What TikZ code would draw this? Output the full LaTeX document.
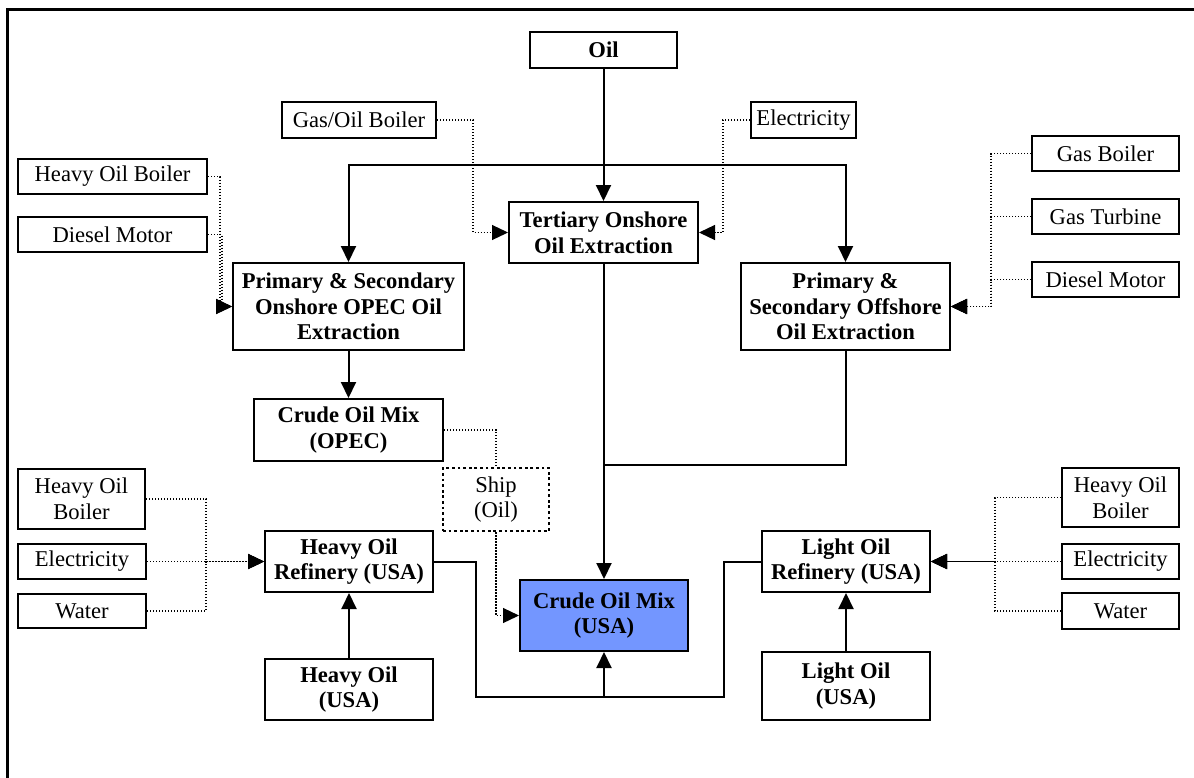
\documentclass[tikz,border=0pt]{standalone}
\usepackage{fontspec}
\setmainfont{Liberation Serif}
\usepackage{xcolor}
\usetikzlibrary{arrows.meta}
\definecolor{mixblue}{RGB}{115,150,255}
\tikzset{box/.style={draw, line width=1pt, align=center, inner sep=1pt,
font=\fontsize{11.3}{12.8}\selectfont},
bbox/.style={box, font=\fontsize{11.3}{12.8}\selectfont\bfseries},
flow/.style={line width=1pt, -{Triangle[length=8pt,width=7.5pt]}},
link/.style={line width=1pt},
feed/.style={line width=0.6pt, dash pattern=on 0.6pt off 0.9pt, -{Triangle[length=8pt,width=7.5pt]}},
feedline/.style={line width=0.6pt, dash pattern=on 0.6pt off 0.9pt}}

\begin{document}
\begin{tikzpicture}[x=0.5pt, y=-0.5pt]
	\useasboundingbox (0,0) rectangle (1194,777);
	\draw[line width=1.5pt] (7,800) |- (1220,9);
	% top row
	\node[bbox, minimum width=73.5pt, minimum height=18pt] (oil) at (603.5,50) {Oil};
	\node[box, minimum width=77pt, minimum height=18pt] (gasoil) at (359,120) {Gas/Oil Boiler};
	\node[box, minimum width=52.5pt, minimum height=18pt] (elecT) at (803.5,120) {Electricity};
	\node[bbox, minimum width=94.5pt, minimum height=30.5pt] (tert) at (603.5,232.5) {Tertiary Onshore\\Oil Extraction};
	% onshore side
	\node[box, minimum width=94.5pt, minimum height=17.5pt] (hob1) at (112.5,176.5) {Heavy Oil Boiler};
	\node[box, minimum width=94.5pt, minimum height=17.5pt] (diesel1) at (112.5,234.5) {Diesel Motor};
	\node[bbox, minimum width=115.5pt, minimum height=43.5pt] (onshore) at (348.5,306.5) {Primary \& Secondary\\Onshore OPEC Oil\\Extraction};
	\node[bbox, minimum width=94.5pt, minimum height=31pt] (opec) at (348.5,430) {Crude Oil Mix\\(OPEC)};
	\node[box, minimum width=53pt, minimum height=31.5pt, line width=1.4pt, dash pattern=on 1.4pt off 1.4pt] (ship) at (496,499.5) {Ship\\(Oil)};
	% offshore side
	\node[box, minimum width=73.5pt, minimum height=17.5pt] (gasB) at (1105.5,153.5) {Gas Boiler};
	\node[box, minimum width=73.5pt, minimum height=17.5pt] (gasT) at (1105.5,216.5) {Gas Turbine};
	\node[box, minimum width=73.5pt, minimum height=17.5pt] (diesel2) at (1105.5,279.5) {Diesel Motor};
	\node[bbox, minimum width=104.5pt, minimum height=43.5pt] (offshore) at (845.5,306.5) {Primary \&\\Secondary Offshore\\Oil Extraction};
	% refineries
	\node[box, minimum width=63.5pt, minimum height=30pt] (hob2) at (81.5,499) {Heavy Oil\\Boiler};
	\node[box, minimum width=64pt, minimum height=17.5pt] (elec2) at (82,561.5) {Electricity};
	\node[box, minimum width=64pt, minimum height=17pt] (water2) at (82,611) {Water};
	\node[bbox, minimum width=84pt, minimum height=30.5pt] (hor) at (349,561.5) {Heavy Oil\\Refinery (USA)};
	\node[bbox, minimum width=84pt, minimum height=30.5pt] (housa) at (349,689.5) {Heavy Oil\\(USA)};
	\node[bbox, minimum width=84pt, minimum height=35.5pt, fill=mixblue] (crude) at (604,615.5) {Crude Oil Mix\\(USA)};
	\node[bbox, minimum width=84pt, minimum height=30.5pt] (lor) at (846,561.5) {Light Oil\\Refinery (USA)};
	\node[bbox, minimum width=84pt, minimum height=34pt] (lousa) at (846,686) {Light Oil\\(USA)};
	\node[box, minimum width=58.5pt, minimum height=29.5pt] (hob3) at (1120.5,497.5) {Heavy Oil\\Boiler};
	\node[box, minimum width=58.5pt, minimum height=17.5pt] (elec3) at (1120.5,561.5) {Electricity};
	\node[box, minimum width=58.5pt, minimum height=18pt] (water3) at (1120.5,611) {Water};
	% joints
	\coordinate (split) at (603.5,165);
	\coordinate (join) at (604,465);
	\coordinate (lowL) at (476,697);
	\coordinate (lowM) at (604,697);
	\coordinate (lowR) at (724,697);
	% oil flows
	\draw[flow] (oil) -- (tert);
	\draw[flow] (split) -| (onshore);
	\draw[flow] (split) -| (offshore);
	\draw[flow] (onshore) -- (opec);
	\draw[flow] (tert.south -| crude.north) -- (crude);
	\draw[link] (offshore) |- (join);
	\draw[flow] (housa) -- (hor);
	\draw[flow] (lousa) -- (lor);
	\draw[link] (hor) -| (lowL) -- (lowR) |- (lor);
	\draw[flow] (lowM) -- (crude);
	% energy inputs
	\draw[feed] (gasoil.east) -- ++(36,0) |- (tert.west);
	\draw[feed] (elecT.west) -- ++(-27,0) |- (tert.east);
	\draw[feed] (hob1.east) -- ++(12,0) |- (onshore.west);
	\draw[feed] (diesel1.east) -- ++(14,0) |- (onshore.west);
	\draw[feed] (gasB.west) -- ++(-40,0) |- (offshore.east);
	\draw[feed] (gasT.west) -- ++(-40,0) |- (offshore.east);
	\draw[feed] (diesel2.west) -- ++(-40,0) |- (offshore.east);
	\draw[feed] (hob2.east) -- ++(60,0) |- (hor.west);
	\draw[feed] (elec2) -- (hor);
	\draw[feed] (water2.east) -- ++(59,0) |- (hor.west);
	\draw[feed] (hob3.west) -- ++(-66,0) |- (lor.east);
	\draw[feed] (elec3) -- (lor);
	\draw[feed] (water3.west) -- ++(-66,0) |- (lor.east);
	\draw[feedline] (opec) -| (ship);
	\draw[feed] (ship) |- (crude);
\end{tikzpicture}
\end{document}
